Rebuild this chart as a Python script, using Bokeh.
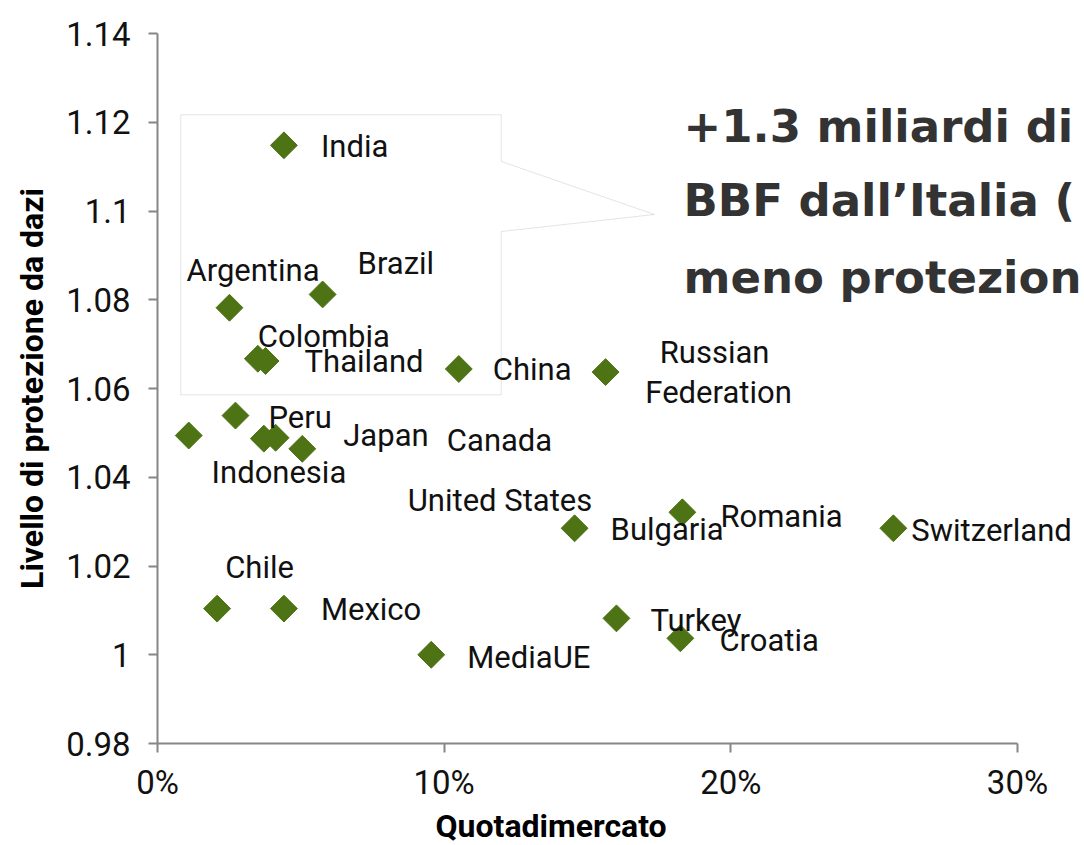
from bokeh.plotting import figure
from bokeh.models import ColumnDataSource, LabelSet, Label, PolyAnnotation, FixedTicker, Range1d, Title
from bokeh.core.properties import value
from bokeh.embed import file_html
from bokeh.resources import INLINE

# ---------------- data ----------------
countries = ["India", "Argentina", "Brazil", "Colombia", "Thailand", "China",
             "Russian Federation", "United States", "Peru", "Canada", "Indonesia",
             "Japan", "Bulgaria", "Romania", "Switzerland", "Chile", "Mexico",
             "MediaUE", "Turkey", "Croatia"]
market_share = [4.41, 2.51, 5.76, 3.50, 3.77, 10.51,
                15.63, 1.09, 2.72, 3.71, 4.12,
                5.05, 14.55, 18.31, 25.67, 2.08, 4.41,
                9.55, 16.01, 18.24]
protection = [1.1148, 1.0782, 1.0812, 1.0667, 1.0662, 1.0644,
              1.0637, 1.0494, 1.0539, 1.0487, 1.0489,
              1.0464, 1.0285, 1.0321, 1.0285, 1.0104, 1.0104,
              1.0000, 1.0082, 1.0037]

x_ticks = [0, 10, 20, 30]
x_tick_labels = ["0%", "10%", "20%", "30%"]
y_ticks = [0.98, 1.0, 1.02, 1.04, 1.06, 1.08, 1.1, 1.12, 1.14]
y_tick_labels = ["0.98", "1", "1.02", "1.04", "1.06", "1.08", "1.1", "1.12", "1.14"]

x_title = "Quotadimercato"
y_title = "Livello di protezione da dazi"
callout_lines = ["+1.3 miliardi di", "BBF dall\u2019Italia (", "meno protezion"]

# ---------------- label placement (screen px, down positive) ----------------
label_dx = {"India": 37, "Argentina": -43, "Brazil": 35, "Colombia": 0, "Thailand": 39,
            "China": 34, "United States": 219, "Peru": 33, "Canada": 183,
            "Indonesia": -64, "Japan": 41, "Bulgaria": 36, "Romania": 38,
            "Switzerland": 18, "Chile": 8, "Mexico": 37, "MediaUE": 36,
            "Turkey": 34, "Croatia": 39}
label_dy = {"India": 12, "Argentina": -27, "Brazil": -20, "Colombia": -12, "Thailand": 11,
            "China": 11, "United States": 75, "Peru": 12, "Canada": 12,
            "Indonesia": 45, "Japan": -3, "Bulgaria": 12, "Romania": 15,
            "Switzerland": 13, "Chile": -31, "Mexico": 11, "MediaUE": 13,
            "Turkey": 13, "Croatia": 13}
wrap_dx = [109, 113]
wrap_dy = [-9, 31]

GREEN = "#4e7314"
AXIS = "#868686"
FONT = "Roboto"

W, H = 1084, 845
LEFT, TOP = 157, 33
BOTTOM = H - 743
FRAME_W = W - LEFT
X_END = 30 * FRAME_W / 860.0   # frame runs to the canvas edge; axis line stops at 30%

p = figure(width=W, height=H,
           x_range=Range1d(0, X_END), y_range=Range1d(0.98, 1.14),
           output_backend="svg", toolbar_location=None,
           min_border_left=LEFT, min_border_right=0,
           min_border_top=TOP, min_border_bottom=BOTTOM)
p.xgrid.visible = False
p.ygrid.visible = False
p.outline_line_color = None
p.background_fill_color = "white"
p.border_fill_color = "white"

# callout box
xl, xr, xt = 0.813, 11.99, 17.337
yt, yb, yp1, ytip, yp2 = 1.12168, 1.05858, 1.11116, 1.09921, 1.09538
p.add_layout(PolyAnnotation(xs=[xl, xr, xr, xt, xr, xr, xl],
                            ys=[yt, yt, yp1, ytip, yp2, yb, yb],
                            fill_alpha=0, line_color="#a6a6a6", line_width=1,
                            level="underlay"))

src = ColumnDataSource(dict(x=market_share, y=protection, name=countries))
p.scatter("x", "y", source=src, marker="square", angle=0.785398,
          size=19, fill_color=GREEN, line_color=GREEN, line_width=1)

# labels
lx, ly, lt, ldx, ldy = [], [], [], [], []
wx, wy, wt, wdx, wdy = [], [], [], [], []
for c, xv, yv in zip(countries, market_share, protection):
    if c in label_dx:
        lx.append(xv); ly.append(yv); lt.append(c)
        ldx.append(label_dx[c]); ldy.append(-label_dy[c])
    else:
        for part, a, b in zip(c.split(" "), wrap_dx, wrap_dy):
            wx.append(xv); wy.append(yv); wt.append(part)
            wdx.append(a); wdy.append(-b)

lsrc = ColumnDataSource(dict(x=lx, y=ly, t=lt, dx=ldx, dy=ldy))
p.add_layout(LabelSet(x="x", y="y", text="t", source=lsrc,
                      x_offset="dx", y_offset="dy",
                      text_font=value(FONT), text_font_size=value("31px"),
                      text_color="#111111",
                      text_align="left", text_baseline="alphabetic"))
wsrc = ColumnDataSource(dict(x=wx, y=wy, t=wt, dx=wdx, dy=wdy))
p.add_layout(LabelSet(x="x", y="y", text="t", source=wsrc,
                      x_offset="dx", y_offset="dy",
                      text_font=value(FONT), text_font_size=value("31px"),
                      text_color="#111111",
                      text_align="center", text_baseline="alphabetic"))

# callout text
cx = 18.35
cys = [1.1190, 1.1024, 1.0850]
for line, cy in zip(callout_lines, cys):
    p.add_layout(Label(x=cx, y=cy, text=line, text_font="DejaVu Sans", text_font_size="45px",
                       text_font_style="bold", text_color="#333333",
                       text_baseline="alphabetic"))

# axes
p.xaxis.ticker = FixedTicker(ticks=x_ticks)
p.xaxis.major_label_overrides = {t: s for t, s in zip(x_ticks, x_tick_labels)}
p.xaxis.bounds = (x_ticks[0], x_ticks[-1])
p.yaxis.ticker = FixedTicker(ticks=y_ticks)
p.yaxis.major_label_overrides = {t: s for t, s in zip(y_ticks, y_tick_labels)}
for ax in (p.xaxis[0], p.yaxis[0]):
    ax.axis_line_color = AXIS
    ax.axis_line_width = 2
    ax.major_tick_line_color = AXIS
    ax.major_tick_line_width = 2
    ax.major_tick_out = 9
    ax.major_tick_in = 0
    ax.minor_tick_line_color = None
    ax.major_label_text_font = FONT
    ax.major_label_text_font_size = "33px"
    ax.major_label_text_color = "#111111"

p.xaxis.major_label_standoff = 10
p.yaxis.major_label_standoff = 18
p.yaxis.axis_label = y_title
p.yaxis.axis_label_text_font = FONT
p.yaxis.axis_label_text_font_style = "bold"
p.yaxis.axis_label_text_color = "black"
p.yaxis.axis_label_text_font_size = "32px"
p.yaxis.axis_label_standoff = 12

# x axis title (offset to the left like the original)
p.add_layout(Title(text=x_title, align="left", offset=278, text_font=FONT,
                   text_font_size="32px", text_font_style="bold", text_color="black",
                   standoff=0), "below")

open("out.html", "w").write(file_html(p, INLINE))
